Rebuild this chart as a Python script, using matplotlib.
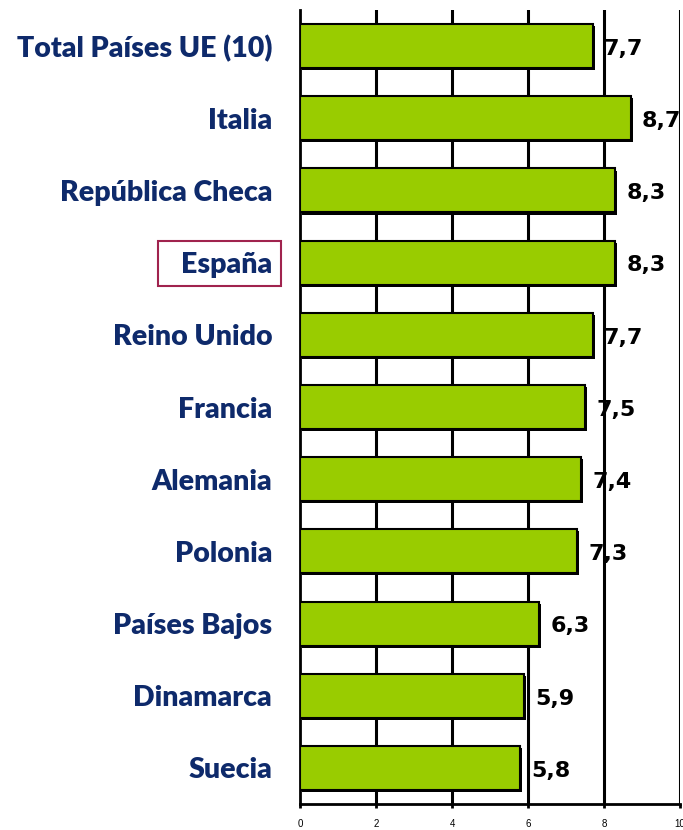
import numpy as np
import matplotlib
matplotlib.use("Agg")
import matplotlib.pyplot as plt
from matplotlib import patheffects
from matplotlib.patches import Rectangle

# data
paises = ["Total Países UE (10)", "Italia", "República Checa", "España",
          "Reino Unido", "Francia", "Alemania", "Polonia", "Países Bajos",
          "Dinamarca", "Suecia"]
valores = [7.7, 8.7, 8.3, 8.3, 7.7, 7.5, 7.4, 7.3, 6.3, 5.9, 5.8]
etiquetas = ["7,7", "8,7", "8,3", "8,3", "7,7", "7,5", "7,4", "7,3", "6,3", "5,9", "5,8"]
ticks_x = [0, 2, 4, 6, 8, 10]

fig = plt.figure(figsize=(6.83, 8.30), dpi=100)
ax = fig.add_axes([300/683, 26/830, 380/683, 794/830])

y = np.arange(len(paises))
bars = ax.barh(y, valores, height=0.61, color="#99CC00", edgecolor="black",
               linewidth=1.5, zorder=3)
for b in bars:
    b.set_path_effects([patheffects.SimplePatchShadow(offset=(1.5, -1.5), shadow_rgbFace="black", alpha=1),
                        patheffects.Normal()])

for xi in ticks_x[1:]:
    ax.axvline(xi, color="black", linewidth=2.2, zorder=1)

ax.set_xlim(0, 10)
ax.set_ylim(len(paises) - 0.5, -0.5)
ax.set_xticks(ticks_x)
ax.set_xticklabels([str(t) for t in ticks_x], fontsize=7, family="Liberation Sans")
ax.tick_params(axis="x", length=3, width=2, pad=8)
ax.set_yticks(y)
ax.set_yticklabels(paises, fontsize=20.5, fontweight="heavy", color="#0E2A6B",
                   family=["Lato", "DejaVu Sans"])
ax.tick_params(axis="y", length=0, pad=20)

for s in ["top", "right"]:
    ax.spines[s].set_visible(False)
ax.spines["left"].set_linewidth(2)
ax.spines["bottom"].set_linewidth(2)

for yi, v, t in zip(y, valores, etiquetas):
    ax.annotate(t, (v, yi), xytext=(8, -2), textcoords="offset points",
                ha="left", va="center", fontsize=16, fontweight="bold",
                family="DejaVu Sans", color="black", clip_on=False, annotation_clip=False)

# box around España
fig.patches.append(Rectangle((158/683, 1 - 286/830), 123/683, 45/830,
                             transform=fig.transFigure, fill=False,
                             edgecolor="#A0234E", linewidth=1.5))

fig.savefig("out.png", dpi=100)
